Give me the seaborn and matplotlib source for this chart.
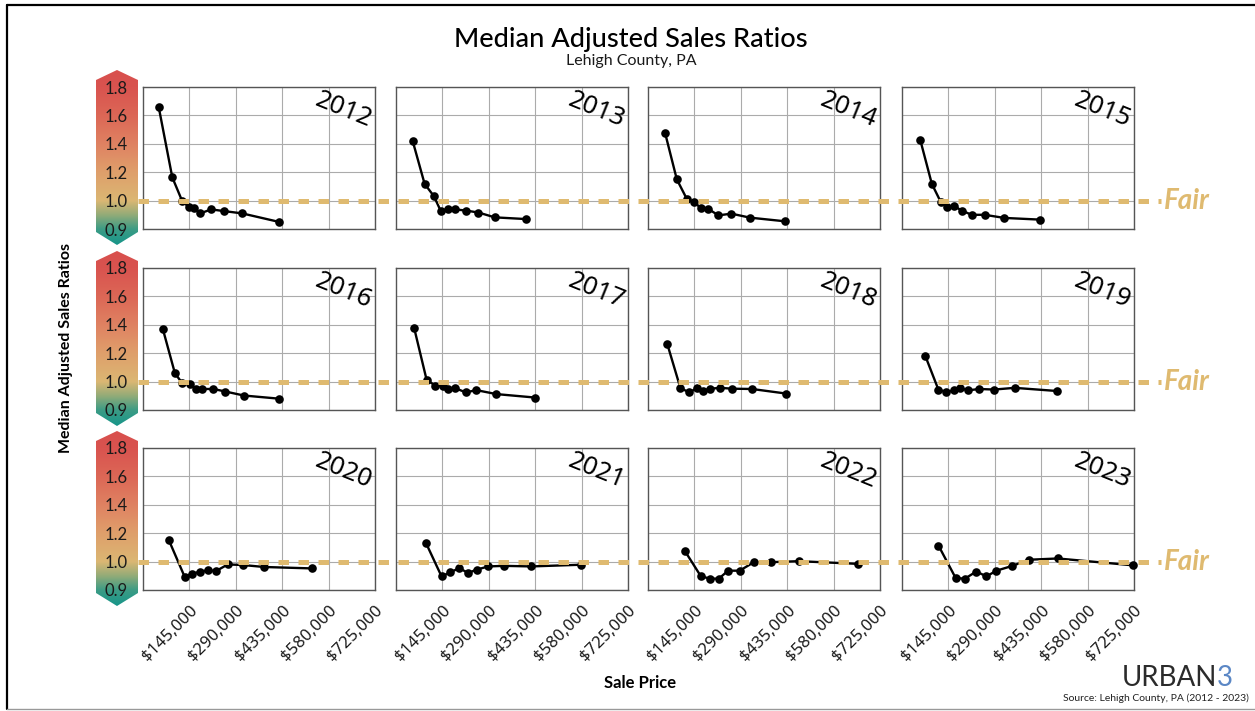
import numpy as np
import pandas as pd
import matplotlib
matplotlib.use("Agg")
import matplotlib.pyplot as plt
import seaborn as sns
from matplotlib.lines import Line2D
from matplotlib.patches import Polygon
from matplotlib.colors import to_rgb

# ---------------- data ----------------
years = [2012, 2013, 2014, 2015, 2016, 2017, 2018, 2019, 2020, 2021, 2022, 2023]

price_2012 = [49000, 91500, 122600, 143400, 159000, 178800, 213000, 253600, 309700, 425000]
ratio_2012 = [1.660, 1.164, 0.998, 0.977, 0.974, 0.955, 0.969, 0.963, 0.955, 0.925]
price_2013 = [52000, 89400, 118500, 139200, 163000, 185000, 218000, 257700, 308600, 406000]
ratio_2013 = [1.421, 1.118, 1.031, 0.965, 0.969, 0.969, 0.965, 0.958, 0.941, 0.935]
price_2014 = [53800, 90000, 121000, 142700, 165400, 188000, 220000, 260600, 318500, 429000]
ratio_2014 = [1.473, 1.150, 1.013, 0.995, 0.974, 0.971, 0.948, 0.954, 0.940, 0.927]
price_2015 = [57000, 93200, 121200, 139900, 162700, 186500, 217600, 258000, 320000, 432000]
ratio_2015 = [1.428, 1.118, 0.995, 0.977, 0.981, 0.965, 0.950, 0.950, 0.939, 0.933]
price_2016 = [62300, 99700, 121600, 145500, 164200, 183000, 220000, 257800, 315000, 424000]
ratio_2016 = [1.368, 1.059, 0.996, 0.991, 0.975, 0.974, 0.974, 0.965, 0.951, 0.940]
price_2017 = [57000, 95600, 122600, 145500, 162000, 185000, 218000, 251000, 313800, 433000]
ratio_2017 = [1.375, 1.013, 0.986, 0.986, 0.974, 0.977, 0.962, 0.970, 0.956, 0.944]
price_2018 = [60000, 101300, 129300, 153000, 171600, 194400, 225400, 263700, 324700, 431000]
ratio_2018 = [1.267, 0.977, 0.962, 0.977, 0.968, 0.975, 0.978, 0.975, 0.974, 0.958]
price_2019 = [72500, 114000, 138800, 163700, 182300, 207000, 240000, 288000, 352000, 483000]
ratio_2019 = [1.183, 0.971, 0.964, 0.969, 0.977, 0.969, 0.974, 0.972, 0.978, 0.967]
price_2020 = [81000, 130000, 153800, 178700, 202600, 228600, 265000, 311700, 379000, 528000]
ratio_2020 = [1.150, 0.947, 0.957, 0.965, 0.969, 0.967, 0.990, 0.988, 0.981, 0.976]
price_2021 = [93500, 142300, 169400, 197400, 225500, 252500, 288800, 337700, 422900, 578700]
ratio_2021 = [1.132, 0.948, 0.962, 0.977, 0.960, 0.972, 0.983, 0.985, 0.983, 0.989]
price_2022 = [115800, 165400, 194400, 221300, 250300, 286400, 330900, 384700, 471500, 656600]
ratio_2022 = [1.073, 0.948, 0.940, 0.940, 0.968, 0.968, 0.998, 0.998, 1.003, 0.992]
price_2023 = [114000, 167800, 196800, 232000, 264000, 295000, 345000, 395700, 487000, 721000]
ratio_2023 = [1.113, 0.942, 0.940, 0.965, 0.948, 0.968, 0.985, 1.013, 1.022, 0.987]

x_ticks = [145000, 290000, 435000, 580000, 725000]
x_tick_labels = ["$145,000", "$290,000", "$435,000", "$580,000", "$725,000"]
y_ticks = [0.9, 1.0, 1.2, 1.4, 1.6, 1.8]
y_tick_labels = ["0.9", "1.0", "1.2", "1.4", "1.6", "1.8"]
fair_value = 1.0

title = "Median Adjusted Sales Ratios"
subtitle = "Lehigh County, PA"
y_label = "Median Adjusted Sales Ratios"
x_label = "Sale Price"
source = "Source: Lehigh County, PA (2012 - 2023)"

prices = {2012: price_2012, 2013: price_2013, 2014: price_2014, 2015: price_2015,
          2016: price_2016, 2017: price_2017, 2018: price_2018, 2019: price_2019,
          2020: price_2020, 2021: price_2021, 2022: price_2022, 2023: price_2023}
ratios = {2012: ratio_2012, 2013: ratio_2013, 2014: ratio_2014, 2015: ratio_2015,
          2016: ratio_2016, 2017: ratio_2017, 2018: ratio_2018, 2019: ratio_2019,
          2020: ratio_2020, 2021: ratio_2021, 2022: ratio_2022, 2023: ratio_2023}
df = pd.concat([pd.DataFrame({"year": y, "price": prices[y], "ratio": ratios[y]}) for y in years],
               ignore_index=True)

# ---------------- style ----------------
sns.set_theme(style="white")
plt.rcParams['font.family'] = ['Lato', 'DejaVu Sans']
NOTO = ['Noto Sans', 'DejaVu Sans']
GOLD = '#dfba70'

W, H = 1255, 711
fig = plt.figure(figsize=(W / 100, H / 100), dpi=100)
fig.patch.set_facecolor('white')


def px_rect(l, t, w, h):
    return [l / W, 1 - (t + h) / H, w / W, h / H]


def fwd(v):
    v = np.asarray(v, dtype=float)
    return np.where(v <= 1.0, (v - 0.9) / 0.1, 1.0 + (v - 1.0) / 0.2)


def inv(u):
    u = np.asarray(u, dtype=float)
    return np.where(u <= 1.0, 0.9 + 0.1 * u, 1.0 + 0.2 * (u - 1.0))


col_left = [143, 396, 648, 902]
row_top = [87, 268, 448]
ax_w, ax_h = 232, 142

# gradient stops of the badge (value -> colour)
stop_vals = [0.84, 0.9, 0.95, 1.0, 1.2, 1.4, 1.6, 1.8, 1.95]
stop_cols = ['#14958a', '#3d9c85', '#93ab78', '#dbb773', '#df9f6b', '#df8262',
             '#dc6756', '#d9534f', '#d84f4d']
stop_rgb = np.array([to_rgb(c) for c in stop_cols])

# badges first (behind)
upx = ax_h / 5.0
for r, top in enumerate(row_top):
    b_top = top - 17
    b_h = ax_h + 33
    bax = fig.add_axes(px_rect(96, b_top, 42, b_h))
    bax.set_zorder(0)
    u_top = 5 + 17 / upx
    u_bot = -16 / upx
    bax.set_xlim(0, 1)
    bax.set_ylim(u_bot, u_top)
    uu = np.linspace(u_bot, u_top, 500)
    vv = inv(uu)
    img = np.stack([np.interp(vv, stop_vals, stop_rgb[:, k]) for k in range(3)], axis=-1)
    img = img[:, None, :]
    im = bax.imshow(img, extent=(0, 1, u_bot, u_top), origin='lower', aspect='auto')
    ts = u_top - 10 / upx
    bs = u_bot + 13 / upx
    poly = Polygon([(0, bs), (0.5, u_bot), (1, bs), (1, ts), (0.5, u_top), (0, ts)],
                   closed=True, facecolor='none', edgecolor='none', transform=bax.transData)
    bax.add_patch(poly)
    im.set_clip_path(poly)
    bax.axis('off')

axes = []
for i, y in enumerate(years):
    r, c = divmod(i, 4)
    ax = fig.add_axes(px_rect(col_left[c], row_top[r], ax_w, ax_h))
    ax.set_zorder(1)
    sub = df[df["year"] == y]
    sns.lineplot(data=sub, x="price", y="ratio", ax=ax, color='black', marker='o',
                 markersize=6.2, markeredgewidth=0, linewidth=1.7, errorbar=None,
                 sort=False, clip_on=False, zorder=5)
    ax.set_yscale('function', functions=(fwd, inv))
    ax.set_ylim(0.9, 1.8)
    ax.set_xlim(0, 725000)
    ax.set_xticks(x_ticks)
    ax.set_yticks(y_ticks)
    ax.grid(True, color='#ababab', linewidth=0.8)
    ax.set_axisbelow(True)
    ax.tick_params(length=0)
    for s in ax.spines.values():
        s.set_color('#555555')
        s.set_linewidth(1.0)
    ax.set_xlabel('')
    ax.set_ylabel('')
    if c == 0:
        ax.set_yticklabels(y_tick_labels, fontsize=12, color='#1a1a1a')
        ax.tick_params(axis='y', pad=11)
    else:
        ax.tick_params(axis='y', labelleft=False)
    if r == 2:
        ax.set_xticklabels(x_tick_labels, rotation=45, ha='right', va='top',
                           rotation_mode='anchor', fontsize=12, family=NOTO, color='#1a1a1a')
        ax.tick_params(axis='x', pad=9)
    else:
        ax.tick_params(axis='x', labelbottom=False)
    ax.text(0.863, 0.835, str(y), transform=ax.transAxes, rotation=-22,
            ha='center', va='center', fontsize=18.5, family=NOTO, color='black')
    axes.append(ax)

# fair lines across each row
inv_fig = fig.transFigure.inverted()
for r in range(3):
    ax = axes[r * 4]
    yf = inv_fig.transform(ax.transData.transform((0, fair_value)))[1]
    ln = Line2D([138 / W, 1161 / W], [yf, yf], transform=fig.transFigure, color=GOLD,
                linewidth=3.6, dashes=(2.1, 1.9), dash_capstyle='butt', zorder=10)
    fig.add_artist(ln)
    fig.text(1164 / W, yf, 'Fair', color=GOLD, fontsize=20, fontweight='bold',
             style='italic', ha='left', va='center')

# titles & labels
fig.text(631 / W, 1 - 39 / H, title, ha='center', va='center', fontsize=19.5,
         fontweight='medium', color='black')
fig.text(631 / W, 1 - 61 / H, subtitle, ha='center', va='center', fontsize=11.5, color='#1a1a1a')
fig.text(66 / W, 1 - 348 / H, y_label, rotation=90, ha='center', va='center',
         fontsize=11.5, fontweight='bold', color='black')
fig.text(640 / W, 1 - 683 / H, x_label, ha='center', va='center', fontsize=12,
         fontweight='bold', color='black')

# logo
renderer = fig.canvas.get_renderer()
t3 = fig.text(1233 / W, 1 - 686 / H, '3', ha='right', va='baseline', fontsize=20,
              color='#5b87c5', fontweight='normal')
bb = t3.get_window_extent(renderer)
fig.text(bb.x0 / W, 1 - 686 / H, 'URBAN', ha='right', va='baseline', fontsize=20,
         color='#2b2b2b', fontweight='normal')
fig.text(1249 / W, 1 - 698 / H, source, ha='right', va='center', fontsize=7.5, color='#222222')

# slide border
fig.add_artist(Line2D([7 / W, 1], [1 - 5 / H, 1 - 5 / H], transform=fig.transFigure,
                      color='black', linewidth=1.6))
fig.add_artist(Line2D([7 / W, 7 / W], [1 - 5 / H, 1 - 709 / H], transform=fig.transFigure,
                      color='black', linewidth=1.6))
fig.add_artist(Line2D([7 / W, 1], [1 - 709 / H, 1 - 709 / H], transform=fig.transFigure,
                      color='#999999', linewidth=1.0))

fig.savefig('out.png', dpi=100)
